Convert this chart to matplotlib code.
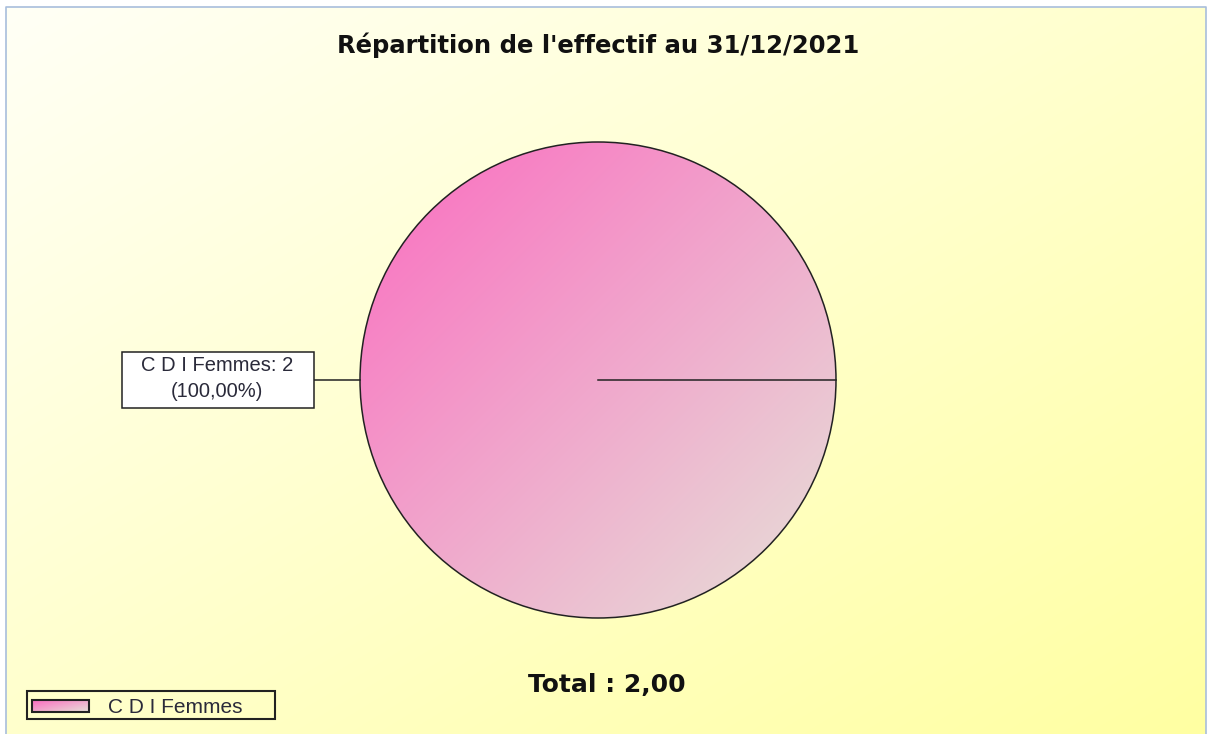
import numpy as np
import matplotlib
matplotlib.use("Agg")
import matplotlib.pyplot as plt
from matplotlib.patches import Rectangle
from matplotlib.colors import to_rgb

# ---- data ----
title = "Répartition de l'effectif au 31/12/2021"
categories = ["C D I Femmes"]
values = [2]
total_label = "Total : 2,00"

W, H = 1207, 734
fig = plt.figure(figsize=(W / 100, H / 100), dpi=100)
fig.patch.set_facecolor("white")
ax = fig.add_axes([0, 0, 1, 1])

LBL_FONT = ["Liberation Sans", "DejaVu Sans"]
PIE_C0, PIE_C1 = "#fb6cc0", "#e6e2d8"


def diag_gradient(c0, c1, n=256):
    a = np.array(to_rgb(c0))
    b = np.array(to_rgb(c1))
    x = np.linspace(0, 1, n)
    X, Y = np.meshgrid(x, x)
    t = (X + Y) / 2
    return a[None, None, :] * (1 - t[..., None]) + b[None, None, :] * t[..., None]


# background gradient
ax.imshow(diag_gradient("#fffff6", "#ffffa2"), extent=(6, 1206, 734, 7),
          interpolation="bilinear", zorder=0, aspect="auto")
ax.plot([6, 6, 1206, 1206], [734, 7, 7, 734], color="#a8bedc", lw=1.2, zorder=1)

# pie
cx, cy, R = 598, 380, 238
wedges, _ = ax.pie(values, colors=["none"], radius=R, center=(cx, cy),
                   startangle=0, frame=True,
                   wedgeprops=dict(edgecolor="#222222", linewidth=1.1))
for w in wedges:
    w.set_zorder(3)
    grad = ax.imshow(diag_gradient(PIE_C0, PIE_C1),
                     extent=(cx - R, cx + R, cy + R, cy - R),
                     interpolation="bilinear", zorder=2, aspect="auto")
    grad.set_clip_path(w)
    th = np.deg2rad(w.theta1)
    ax.plot([cx, cx + R * np.cos(th)], [cy, cy - R * np.sin(th)],
            color="#222222", lw=1.1, zorder=4)

# label
tot = sum(values)
for cat, v in zip(categories, values):
    pct = f"{100 * v / tot:.2f}".replace(".", ",")
    ax.plot([314, cx - R], [380, 380], color="#222222", lw=1.1, zorder=4)
    ax.add_patch(Rectangle((122, 352), 192, 56, facecolor="white",
                           edgecolor="#222222", lw=1.1, zorder=5))
    ax.text(217, 371, f"{cat}: {v}", ha="center", va="baseline",
            fontsize=14.5, color="#2a2a3a", zorder=6, family=LBL_FONT)
    ax.text(217, 397, f"({pct}%)", ha="center", va="baseline",
            fontsize=14.5, color="#2a2a3a", zorder=6, family=LBL_FONT)

# title and total
ax.text(598, 53, title, ha="center", va="baseline", fontsize=17.5,
        fontweight="bold", color="#111111")
ax.text(607, 692, total_label, ha="center", va="baseline", fontsize=18,
        fontweight="bold", color="#111111")

# legend
ax.add_patch(Rectangle((27, 691), 248, 28, facecolor="none",
                       edgecolor="#222222", lw=1.5, zorder=5))
sw = Rectangle((32, 700), 57, 12, facecolor="none", edgecolor="#222222",
               lw=1.5, zorder=6)
ax.add_patch(sw)
sg = ax.imshow(diag_gradient(PIE_C0, PIE_C1), extent=(32, 89, 712, 700),
               interpolation="bilinear", zorder=5, aspect="auto")
sg.set_clip_path(sw)
ax.text(108, 713, categories[0], ha="left", va="baseline", fontsize=15,
        color="#2a2a3a", zorder=6, family=LBL_FONT)

ax.set_xlim(0, W)
ax.set_ylim(H, 0)
ax.set_aspect("auto")
ax.axis("off")
fig.savefig("out.png", dpi=100, facecolor="white")
